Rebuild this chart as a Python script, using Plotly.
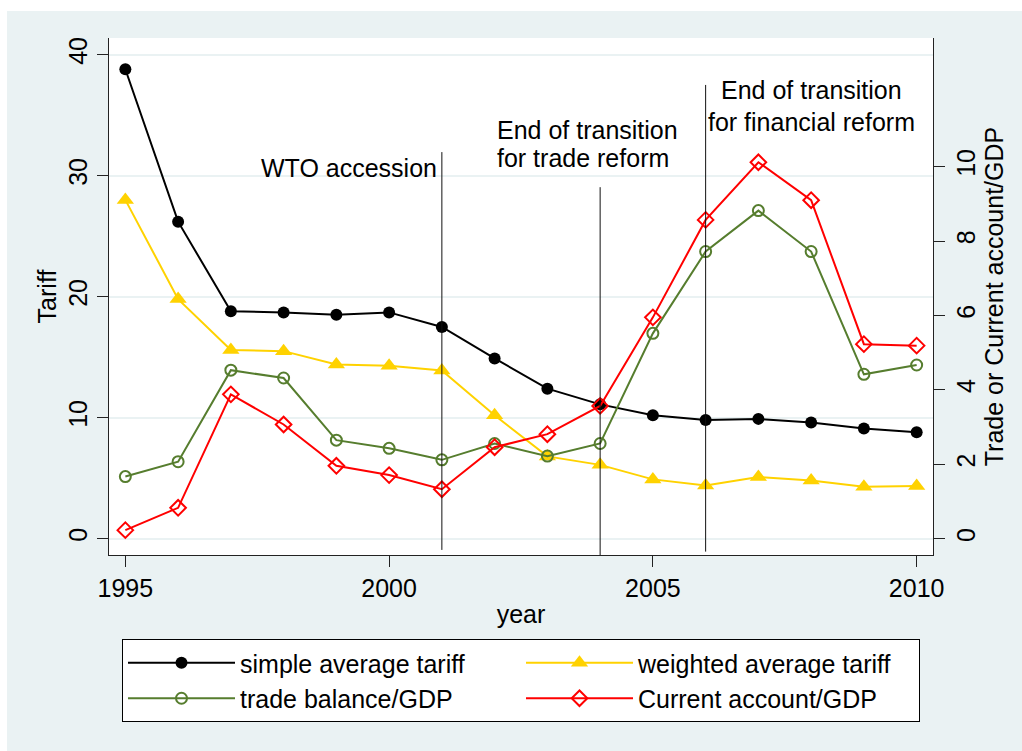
import plotly.graph_objects as go

# ---------------- data ----------------
years = [1995, 1996, 1997, 1998, 1999, 2000, 2001, 2002,
         2003, 2004, 2005, 2006, 2007, 2008, 2009, 2010]
simple_tariff = [38.8, 26.2, 18.8, 18.7, 18.5, 18.7, 17.5, 14.9,
                 12.4, 11.1, 10.2, 9.8, 9.9, 9.6, 9.1, 8.8]
weighted_tariff = [28.0, 19.8, 15.6, 15.5, 14.4, 14.3, 13.9, 10.2,
                   6.8, 6.1, 4.9, 4.4, 5.1, 4.8, 4.3, 4.35]
trade_balance = [1.67, 2.07, 4.53, 4.32, 2.65, 2.43, 2.12, 2.56,
                 2.22, 2.56, 5.52, 7.72, 8.82, 7.72, 4.42, 4.67]
current_account = [0.23, 0.83, 3.88, 3.07, 1.96, 1.71, 1.33, 2.46,
                   2.81, 3.57, 5.95, 8.57, 10.12, 9.10, 5.23, 5.19]

series_names = ["simple average tariff", "weighted average tariff",
                "trade balance/GDP", "Current account/GDP"]

x_ticks = [1995, 2000, 2005, 2010]
y_left_ticks = [0, 10, 20, 30, 40]
y_right_ticks = [0, 2, 4, 6, 8, 10]

event_years = [2001, 2004, 2006]
event_line_top = [31.95, 29.05, 37.5]
event_line_bottom = [-0.93, -1.5, -1.07]

# annotation text lines
note_texts = ["WTO accession", "End of transition", "for trade reform",
              "End of transition", "for financial reform"]
note_x = [2001, 2002, 2002, 2008, 2008]
note_y = [30.6, 33.78, 31.44, 37.08, 34.44]
note_anchor = ["right", "left", "left", "center", "center"]

# ---------------- figure ----------------
FONT = "Liberation Sans, Arial, Helvetica, sans-serif"
BG = "#EAF2F3"
GREEN = "#567D2E"
GOLD = "#FFD200"

fig = go.Figure()
fig.add_trace(go.Scatter(
    x=years, y=simple_tariff, name=series_names[0], mode="lines+markers",
    line=dict(color="black", width=2),
    marker=dict(symbol="circle", size=12, color="black")))
fig.add_trace(go.Scatter(
    x=years, y=weighted_tariff, name=series_names[1], mode="lines+markers",
    line=dict(color=GOLD, width=2),
    marker=dict(symbol="triangle-up", size=15, color=GOLD)))
fig.add_trace(go.Scatter(
    x=years, y=trade_balance, name=series_names[2], mode="lines+markers",
    yaxis="y2",
    line=dict(color=GREEN, width=2),
    marker=dict(symbol="circle-open", size=11, color=GREEN,
                line=dict(width=2, color=GREEN))))
fig.add_trace(go.Scatter(
    x=years, y=current_account, name=series_names[3], mode="lines+markers",
    yaxis="y2",
    line=dict(color="red", width=2),
    marker=dict(symbol="diamond-open", size=12, color="red",
                line=dict(width=2, color="red"))))

shapes = []
for xv, y0, y1 in zip(event_years, event_line_bottom, event_line_top):
    shapes.append(dict(type="line", xref="x", yref="y", x0=xv, x1=xv,
                       y0=y0, y1=y1, line=dict(color="#111111", width=1)))
# thin white margins at the top and left edge of the image
shapes.append(dict(type="rect", xref="paper", yref="paper", x0=-0.3, x1=1.3,
                   y0=1.0522, y1=1.2, fillcolor="white", line=dict(width=0),
                   layer="below"))
shapes.append(dict(type="rect", xref="paper", yref="paper", x0=-0.3, x1=-0.1238,
                   y0=-0.6, y1=1.2, fillcolor="white", line=dict(width=0),
                   layer="below"))

annotations = []
for t, xv, yv, anc in zip(note_texts, note_x, note_y, note_anchor):
    annotations.append(dict(text=t, x=xv, y=yv, xref="x", yref="y",
                            xanchor=anc, yanchor="middle", showarrow=False,
                            xshift=-3 if anc == "right" else 0,
                            font=dict(size=25, color="black", family=FONT)))

axis_common = dict(ticks="outside", ticklen=11, tickwidth=1, tickcolor="#222222",
                   showline=True, linecolor="#222222", linewidth=1,
                   zeroline=False, tickfont=dict(size=25, color="black"))

fig.update_layout(
    width=1022, height=751,
    margin=dict(l=109, r=89, t=38, b=196, autoexpand=False),
    paper_bgcolor=BG, plot_bgcolor="white",
    font=dict(family=FONT, size=25, color="black"),
    showlegend=True,
    xaxis=dict(range=[1994.69, 2010.31], tickvals=x_ticks, showgrid=False,
               title=dict(text="year", font=dict(size=25), standoff=4),
               **axis_common),
    yaxis=dict(range=[-1.35, 41.38], tickvals=y_left_ticks, tickangle=-90,
               showgrid=True, gridcolor=BG, gridwidth=2,
               title=dict(text="Tariff", font=dict(size=25), standoff=0),
               **axis_common),
    yaxis2=dict(range=[-0.438, 13.46], tickvals=y_right_ticks, tickangle=-90,
                overlaying="y", side="right", anchor="x", showgrid=False,
                title=dict(text="Trade or Current account/GDP",
                           font=dict(size=25), standoff=0),
                **axis_common),
    legend=dict(orientation="h", x=0.5, xanchor="center", y=-0.1625,
                yanchor="top", bgcolor="white", bordercolor="black",
                borderwidth=1, entrywidth=276, entrywidthmode="pixels",
                font=dict(size=25, color="black", family=FONT),
                itemwidth=107, traceorder="normal"),
    shapes=shapes,
    annotations=annotations,
)

fig.write_html("out.html",
               config={"displayModeBar": False},
               post_script="document.body.style.margin='0';document.body.style.padding='0';")
